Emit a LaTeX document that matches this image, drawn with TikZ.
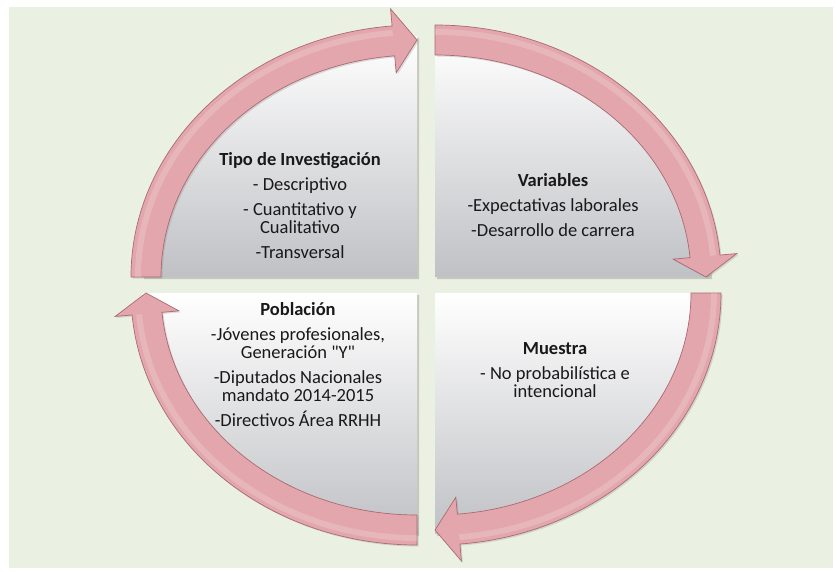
\documentclass[tikz,border=0pt]{standalone}
\usepackage{fontspec}
\setmainfont{Carlito}
\font\qfont="Carlito" at 18.5pt
\usetikzlibrary{shadows}
\definecolor{bgc}{RGB}{234,240,226}
\definecolor{arrfill}{RGB}{226,166,172}
\definecolor{arredge}{RGB}{170,106,115}
\definecolor{txt}{RGB}{25,25,25}
\definecolor{quadbot}{RGB}{192,193,197}
% #1 cx, #2 cy, #3 tail angle, #4 tip angle, #5 head base angle
\newcommand\cycarrow[5]{%
  \draw[arrowband] ({#1+286*cos(#3)},{#2+252*sin(#3)})
    arc[start angle=#3, end angle=#5, x radius=286, y radius=252]
    -- ({#1+303*cos(#5)},{#2+269*sin(#5)})
    -- ({#1+271*cos(#4)},{#2+237*sin(#4)})
    -- ({#1+239*cos(#5)},{#2+205*sin(#5)})
    -- ({#1+256*cos(#5)},{#2+222*sin(#5)})
    arc[start angle=#5, end angle=#3, x radius=256, y radius=222]
    -- cycle;
  \draw[arrowshine] ({#1+279*cos(#3)},{#2+245*sin(#3)})
    arc[start angle=#3, end angle=#5, x radius=279, y radius=245];}
\newcommand\dq{{\qfont\char34}}
\begin{document}
\begin{tikzpicture}[x=1pt,y=1pt,
  quad/.style={top color=white, bottom color=quadbot, draw=none,
    drop shadow={opacity=0.35,shadow xshift=2pt,shadow yshift=-2pt}},
  arrowband/.style={fill=arrfill, draw=arredge, line width=0.7pt, line join=miter,
    drop shadow={opacity=0.25,shadow xshift=1.5pt,shadow yshift=-1.5pt}},
  arrowshine/.style={draw=white, opacity=0.18, line width=6pt},
  lbl/.style={font=\fontsize{18.5}{18}\selectfont, text=txt, align=center, inner sep=0pt}]
\useasboundingbox (0,0) rectangle (837,571);
\fill[white] (0,0) rectangle (837,571);
\fill[bgc] (9,3) rectangle (833,564);
% quadrants
\path[quad] (417,294) -- (142,294) arc[start angle=180,end angle=90,x radius=275,y radius=241] -- cycle;
\path[quad] (435,294) -- (435,535) arc[start angle=90,end angle=0,x radius=275,y radius=241] -- cycle;
\path[quad] (435,278) -- (710,278) arc[start angle=0,end angle=-90,x radius=275,y radius=241] -- cycle;
\path[quad] (417,278) -- (417,37) arc[start angle=-90,end angle=-180,x radius=275,y radius=241] -- cycle;
% arrows
\cycarrow{417}{294}{180}{90}{95}
\cycarrow{435}{294}{90}{0}{5}
\cycarrow{435}{278}{0}{-90}{-85}
\cycarrow{417}{278}{-90}{-180}{-175}
% texts
\node[lbl] (tl) at (300,365) {\textbf{Tipo de Investigación}\\[7pt] - Descriptivo\\[7pt] - Cuantitativo y\\ Cualitativo\\[7pt] -Transversal};
\node[lbl] (tr) at (553,366) {\textbf{Variables}\\[7pt] -Expectativas laborales\\[7pt] -Desarrollo de carrera};
\node[lbl] (br) at (555,201) {\textbf{Muestra}\\[7pt] - No probabilística e\\ intencional};
\node[lbl] (bl) at (298,206) {\textbf{Población}\\[7pt] -Jóvenes profesionales,\\ Generación \dq Y\dq\\[7pt] -Diputados Nacionales\\ mandato 2014-2015\\[7pt] -Directivos Área RRHH};
\end{tikzpicture}
\end{document}
